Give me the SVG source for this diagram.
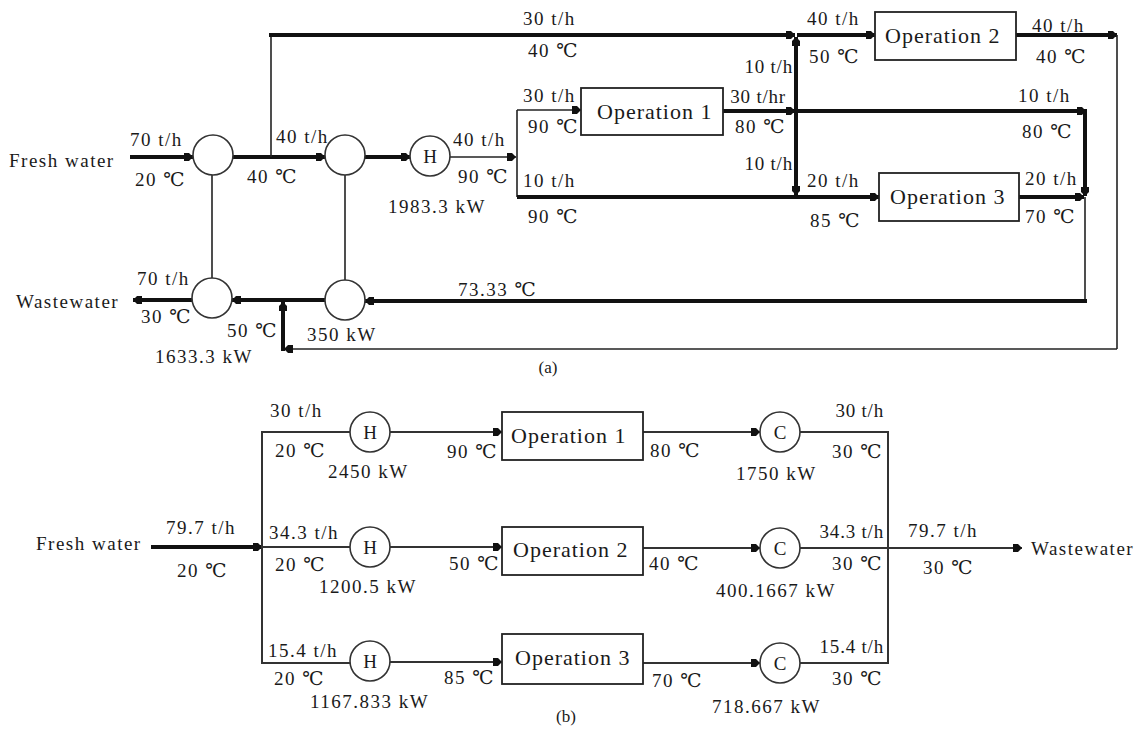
<svg xmlns="http://www.w3.org/2000/svg" width="1141" height="729" viewBox="0 0 1141 729">
<style>
text{font-family:"Liberation Serif","DejaVu Serif",serif;font-size:19px;letter-spacing:1.5px;fill:#1a1a1a}
.op{font-size:22px;letter-spacing:1px}
.cap{font-size:17px;letter-spacing:0;text-anchor:middle}
.e{text-anchor:end;letter-spacing:0.8px}
.k{stroke:#111;stroke-width:4;fill:none}
.t{stroke:#222;stroke-width:1.6;fill:none}
.b{stroke:#333;stroke-width:2;fill:none}
.box{fill:#fff;stroke:#222;stroke-width:1.8}
.hx{fill:#fff;stroke:#333;stroke-width:1.6}
.ctr{text-anchor:middle;letter-spacing:0}
</style>
<defs>
<marker id="ar" markerUnits="userSpaceOnUse" markerWidth="10" markerHeight="10" refX="9" refY="5" orient="auto">
<path d="M0,1 L5,1 L9,5 L5,9 L0,9 z" fill="#111"/>
</marker>
</defs>
<rect width="1141" height="729" fill="#fff"/>

<g id="connectors">
<!-- (a) -->
<line class="k" x1="130" y1="157" x2="193" y2="157" marker-end="url(#ar)"/>
<line class="k" x1="233" y1="157" x2="325" y2="157" marker-end="url(#ar)"/>
<line class="k" x1="365" y1="157" x2="410" y2="157" marker-end="url(#ar)"/>
<line class="t" x1="450" y1="157" x2="516" y2="157" marker-end="url(#ar)"/>
<line class="t" x1="517" y1="110" x2="517" y2="197"/>
<line class="t" x1="517" y1="110" x2="581" y2="110" marker-end="url(#ar)"/>
<line class="k" x1="517" y1="197" x2="879" y2="197" marker-end="url(#ar)"/>
<polyline class="t" points="271,157 271,35"/>
<line class="k" x1="269" y1="35" x2="795" y2="35" marker-end="url(#ar)"/>
<line class="k" x1="797" y1="35" x2="875" y2="35" marker-end="url(#ar)"/>
<line class="k" x1="723" y1="111" x2="795" y2="111" marker-end="url(#ar)"/>
<line class="k" x1="797" y1="111" x2="1086" y2="111" marker-end="url(#ar)"/>
<line class="k" x1="1085" y1="109" x2="1085" y2="196" marker-end="url(#ar)"/>
<line class="k" x1="796" y1="111" x2="796" y2="37" marker-end="url(#ar)"/>
<line class="k" x1="796" y1="111" x2="796" y2="195" marker-end="url(#ar)"/>
<line class="k" x1="1019" y1="197" x2="1084" y2="197" marker-end="url(#ar)"/>
<line class="t" x1="1085" y1="197" x2="1085" y2="301"/>
<line class="k" x1="1087" y1="301" x2="365" y2="301" marker-end="url(#ar)"/>
<line class="k" x1="325" y1="300" x2="232" y2="300" marker-end="url(#ar)"/>
<line class="k" x1="192" y1="300" x2="133" y2="300" marker-end="url(#ar)"/>
<line class="k" x1="1016" y1="35" x2="1117" y2="35" marker-end="url(#ar)"/>
<line class="t" x1="1117" y1="35" x2="1117" y2="349"/>
<line class="t" x1="1117" y1="349" x2="284" y2="349" marker-end="url(#ar)"/>
<line class="k" x1="283" y1="351" x2="283" y2="302" marker-end="url(#ar)"/>
<line class="t" x1="212" y1="175" x2="212" y2="278"/>
<line class="t" x1="345" y1="175" x2="345" y2="281"/>
<!-- (b) -->
<line class="k" x1="151" y1="547" x2="262" y2="547" marker-end="url(#ar)"/>
<line class="b" x1="262" y1="432" x2="262" y2="663"/>
<line class="b" x1="261" y1="432" x2="350" y2="432"/>
<line class="b" x1="262" y1="547" x2="350" y2="547"/>
<line class="b" x1="261" y1="663" x2="350" y2="663"/>
<line class="b" x1="390" y1="432" x2="502" y2="432" marker-end="url(#ar)"/>
<line class="b" x1="390" y1="547" x2="502" y2="547" marker-end="url(#ar)"/>
<line class="b" x1="390" y1="662" x2="502" y2="662" marker-end="url(#ar)"/>
<line class="b" x1="643" y1="432" x2="760" y2="432" marker-end="url(#ar)"/>
<line class="b" x1="643" y1="548" x2="760" y2="548" marker-end="url(#ar)"/>
<line class="b" x1="643" y1="663" x2="760" y2="663" marker-end="url(#ar)"/>
<line class="b" x1="800" y1="432" x2="889" y2="432"/>
<line class="b" x1="800" y1="548" x2="888" y2="548"/>
<line class="b" x1="800" y1="663" x2="889" y2="663"/>
<line class="b" x1="888" y1="431" x2="888" y2="664"/>
<line class="b" x1="888" y1="548" x2="1022" y2="548" marker-end="url(#ar)"/>
</g>

<g id="hx1"><circle class="hx" cx="213" cy="155" r="20"/></g>
<g id="hx2"><circle class="hx" cx="345" cy="155" r="20"/></g>
<g id="hx3"><circle class="hx" cx="212" cy="298" r="20"/></g>
<g id="hx4"><circle class="hx" cx="345" cy="300" r="20"/></g>
<g id="heater-a"><circle class="hx" cx="430" cy="156" r="20"/><text class="ctr" x="430" y="163">H</text></g>
<g id="op1-a"><rect class="box" x="581" y="88" width="142" height="47"/><text class="op" x="597" y="119">Operation 1</text></g>
<g id="op2-a"><rect class="box" x="875" y="12" width="141" height="48"/><text class="op" x="885" y="43">Operation 2</text></g>
<g id="op3-a"><rect class="box" x="879" y="173" width="140" height="48"/><text class="op" x="890" y="204">Operation 3</text></g>

<g id="h1-b"><circle class="hx" cx="370" cy="432" r="20"/><text class="ctr" x="370" y="439">H</text></g>
<g id="h2-b"><circle class="hx" cx="370" cy="547" r="20"/><text class="ctr" x="370" y="554">H</text></g>
<g id="h3-b"><circle class="hx" cx="370" cy="661" r="20"/><text class="ctr" x="370" y="668">H</text></g>
<g id="op1-b"><rect class="box" x="502" y="412" width="141" height="48"/><text class="op" x="511" y="443">Operation 1</text></g>
<g id="op2-b"><rect class="box" x="502" y="527" width="141" height="48"/><text class="op" x="513" y="557">Operation 2</text></g>
<g id="op3-b"><rect class="box" x="502" y="634" width="141" height="50"/><text class="op" x="515" y="665">Operation 3</text></g>
<g id="c1-b"><circle class="hx" cx="780" cy="432" r="20"/><text class="ctr" x="780" y="439">C</text></g>
<g id="c2-b"><circle class="hx" cx="780" cy="548" r="20"/><text class="ctr" x="780" y="555">C</text></g>
<g id="c3-b"><circle class="hx" cx="780" cy="663" r="20"/><text class="ctr" x="780" y="670">C</text></g>

<g id="labels-a">
<text x="9" y="167">Fresh water</text>
<text x="130" y="146">70 t/h</text>
<text x="135" y="186">20 ℃</text>
<text x="276" y="143">40 t/h</text>
<text x="247" y="183">40 ℃</text>
<text x="137" y="285">70 t/h</text>
<text x="16" y="308">Wastewater</text>
<text x="141" y="323">30 ℃</text>
<text x="227" y="337">50 ℃</text>
<text x="307" y="341">350 kW</text>
<text x="155" y="363">1633.3 kW</text>
<text x="523" y="25">30 t/h</text>
<text x="528" y="57">40 ℃</text>
<text x="523" y="102">30 t/h</text>
<text x="528" y="133">90 ℃</text>
<text x="453" y="146">40 t/h</text>
<text x="458" y="183">90 ℃</text>
<text x="523" y="187">10 t/h</text>
<text x="528" y="223">90 ℃</text>
<text x="388" y="213">1983.3 kW</text>
<text class="e" x="793" y="73">10 t/h</text>
<text class="e" x="786" y="103">30 t/hr</text>
<text x="735" y="133">80 ℃</text>
<text class="e" x="793" y="170">10 t/h</text>
<text x="807" y="25">40 t/h</text>
<text x="809" y="63">50 ℃</text>
<text x="1032" y="32">40 t/h</text>
<text x="1036" y="63">40 ℃</text>
<text x="1018" y="102">10 t/h</text>
<text x="1022" y="138">80 ℃</text>
<text x="807" y="187">20 t/h</text>
<text x="810" y="227">85 ℃</text>
<text x="1025" y="185">20 t/h</text>
<text x="1025" y="223">70 ℃</text>
<text x="458" y="296">73.33 ℃</text>
<text class="cap" x="548" y="373">(a)</text>
</g>

<g id="labels-b">
<text x="36" y="550">Fresh water</text>
<text x="166" y="534">79.7 t/h</text>
<text x="177" y="577">20 ℃</text>
<text x="270" y="417">30 t/h</text>
<text x="275" y="457">20 ℃</text>
<text x="328" y="478">2450 kW</text>
<text x="269" y="539">34.3 t/h</text>
<text x="275" y="571">20 ℃</text>
<text x="319" y="593">1200.5 kW</text>
<text x="268" y="657">15.4 t/h</text>
<text x="274" y="685">20 ℃</text>
<text x="310" y="708">1167.833 kW</text>
<text x="447" y="458">90 ℃</text>
<text x="650" y="457">80 ℃</text>
<text x="449" y="570">50 ℃</text>
<text x="649" y="570">40 ℃</text>
<text x="444" y="684">85 ℃</text>
<text x="652" y="687">70 ℃</text>
<text x="736" y="480">1750 kW</text>
<text x="716" y="597">400.1667 kW</text>
<text x="712" y="713">718.667 kW</text>
<text class="e" x="884" y="417">30 t/h</text>
<text x="832" y="458">30 ℃</text>
<text class="e" x="884" y="538">34.3 t/h</text>
<text x="832" y="570">30 ℃</text>
<text class="e" x="884" y="653">15.4 t/h</text>
<text x="832" y="685">30 ℃</text>
<text x="908" y="537">79.7 t/h</text>
<text x="923" y="574">30 ℃</text>
<text x="1031" y="555">Wastewater</text>
<text class="cap" x="566" y="722">(b)</text>
</g>
</svg>
